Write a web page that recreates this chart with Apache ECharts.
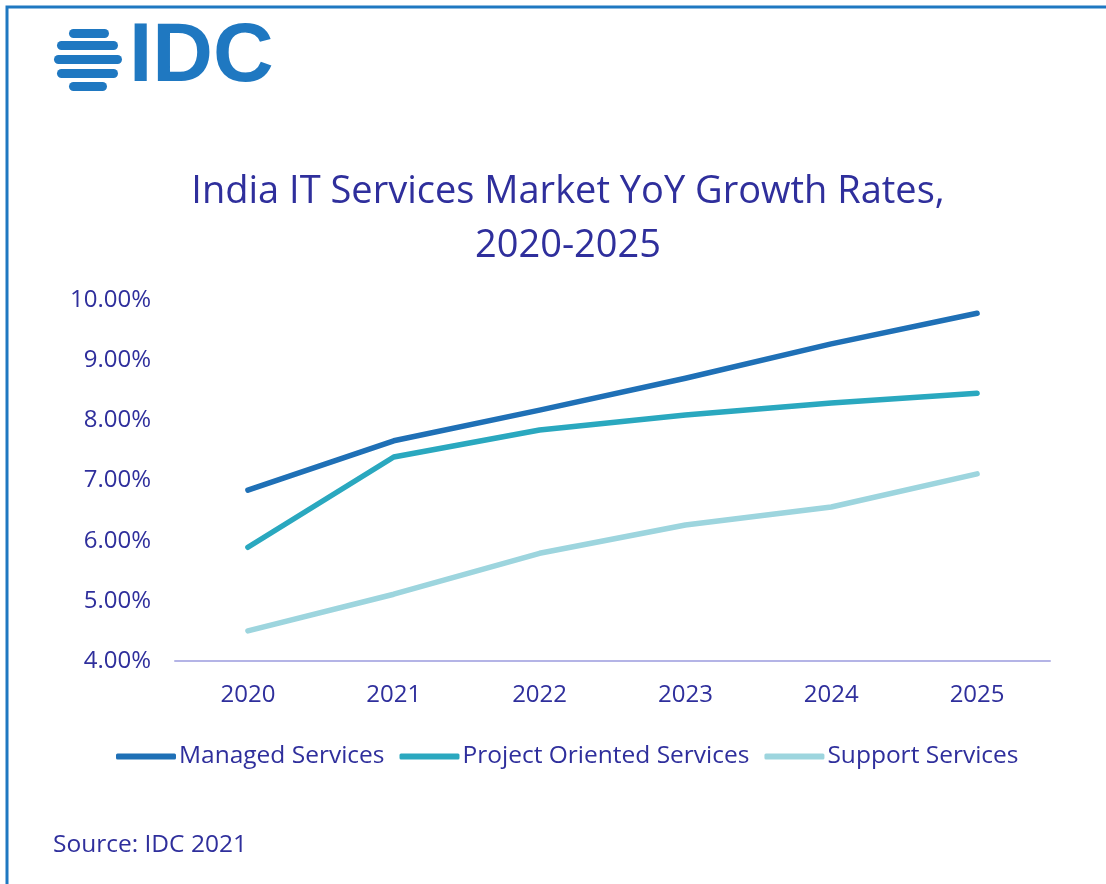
<!DOCTYPE html>
<html><head><meta charset="utf-8">
<script src="https://cdn.jsdelivr.net/npm/echarts@6/dist/echarts.min.js"></script>
<style>html,body{margin:0;padding:0;background:#fff;}#c{width:1106px;height:884px;}</style>
</head><body><div id="c"></div>
<script>
const years = ['2020','2021','2022','2023','2024','2025'];
const managed = [6.84, 7.66, 8.17, 8.70, 9.27, 9.78];
const project = [5.89, 7.39, 7.84, 8.09, 8.29, 8.45];
const support = [4.50, 5.11, 5.79, 6.26, 6.56, 7.11];
const seriesNames = ['Managed Services','Project Oriented Services','Support Services'];
const yTicks = [4, 5, 6, 7, 8, 9, 10];

const navy = '#2f2f9c';
const font = 'Open Sans';
const colors = ['#1f70b6', '#2aa8bf', '#9dd5de'];
const logoBlue = '#1f78c1';

const chart = echarts.init(document.getElementById('c'), null, {renderer:'canvas'});
const stripes = [
  {y: 29, x1: 69, x2: 109},
  {y: 41, x1: 57, x2: 118},
  {y: 55, x1: 54, x2: 122},
  {y: 69, x1: 57, x2: 118},
  {y: 82, x1: 69, x2: 107}
];
const graphics = [
  {type:'rect', shape:{x:7, y:7, width:1200, height:1000}, style:{fill:'none', stroke:logoBlue, lineWidth:3}, z:0},
  {type:'text', left:129, top:16, style:{text:'IDC', fill:logoBlue, font:'bold 84px "Liberation Sans", Arial, sans-serif'}},
  {type:'text', left:53, top:833, style:{text:'Source: IDC 2021', fill:navy, font:'24.5px "Open Sans", sans-serif'}}
];
stripes.forEach(s => graphics.push({type:'rect', shape:{x:s.x1, y:s.y, width:s.x2-s.x1, height:9, r:4.5}, style:{fill:logoBlue}}));

chart.setOption({
  backgroundColor:'#fff',
  animation:false,
  title:{
    text:'India IT Services Market YoY Growth Rates,\n2020-2025',
    left:563, textAlign:'center', top:160,
    textStyle:{color:navy, fontFamily:font, fontSize:38, fontWeight:'normal', lineHeight:54}
  },
  graphic: graphics,
  legend:{
    left:111, top:739,
    icon:'roundRect', itemWidth:60, itemHeight:6, itemGap:15,
    textStyle:{color:navy, fontFamily:font, fontSize:24.5, padding:[0,0,0,-2]},
    data: seriesNames
  },
  grid:{left:175, right:56, top:300, bottom:223, containLabel:false},
  xAxis:{
    type:'category', data:years, boundaryGap:true,
    axisLine:{lineStyle:{color:'#b4b4e6', width:2}},
    axisTick:{show:false},
    axisLabel:{color:navy, fontFamily:font, fontSize:24, margin:22}
  },
  yAxis:{
    type:'value', min:yTicks[0], max:yTicks[yTicks.length-1], interval:1,
    splitLine:{show:false}, axisLine:{show:false}, axisTick:{show:false},
    axisLabel:{color:navy, fontFamily:font, fontSize:24, margin:24, formatter:v=>v.toFixed(2)+'%'}
  },
  series:[
    {name:seriesNames[0], type:'line', data:managed, color:colors[0], symbol:'none', lineStyle:{width:5.5, cap:'round', join:'round'}},
    {name:seriesNames[1], type:'line', data:project, color:colors[1], symbol:'none', lineStyle:{width:5.5, cap:'round', join:'round'}},
    {name:seriesNames[2], type:'line', data:support, color:colors[2], symbol:'none', lineStyle:{width:5.5, cap:'round', join:'round'}}
  ]
});
</script></body></html>
